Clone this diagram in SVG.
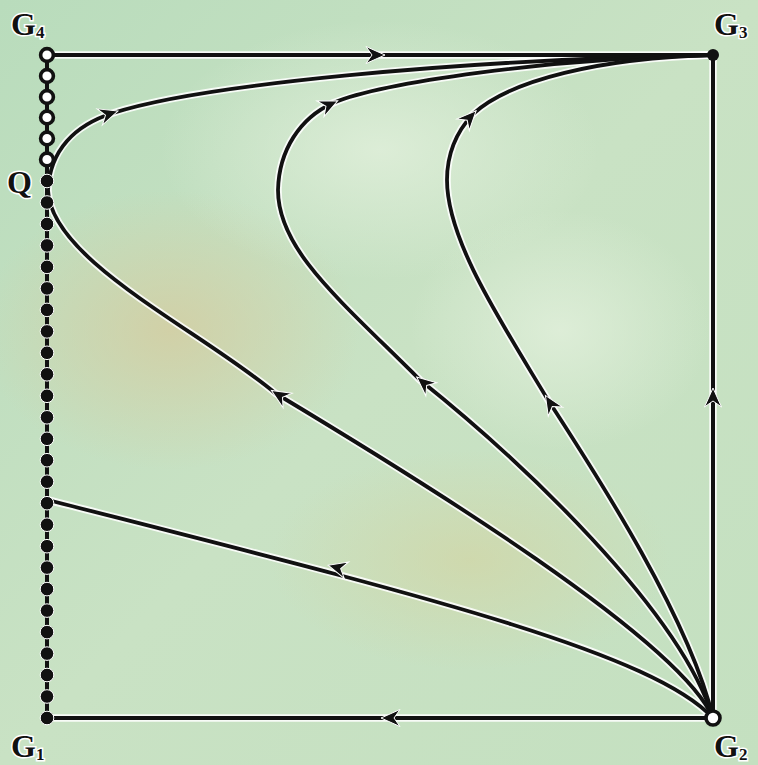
<svg xmlns="http://www.w3.org/2000/svg" width="758" height="765" viewBox="0 0 758 765">
<style>
.halo{fill:none;stroke:#ffffff;stroke-width:7.5;stroke-opacity:0.85;stroke-linecap:round}
.ln{fill:none;stroke:#111;stroke-width:3.8;stroke-linecap:round}
.edge{fill:none;stroke:#111;stroke-width:4}
.ah{fill:#111;stroke:#fff;stroke-width:1}
.lab{font-family:"Liberation Serif","Times New Roman",serif;font-size:32px;font-weight:bold;fill:#111;stroke:#fff;stroke-width:3;paint-order:stroke}
.sub{font-size:17px}
.open{fill:#fff;stroke:#111;stroke-width:3.6}
.fill{fill:#111;stroke:#fff;stroke-width:1}
</style>
<defs>
<linearGradient id="bg" x1="0" y1="0" x2="1" y2="1">
<stop offset="0" stop-color="#b9dcbc"/>
<stop offset="0.5" stop-color="#c9e2c4"/>
<stop offset="1" stop-color="#c4e0c0"/>
</linearGradient>
<radialGradient id="tan1" cx="0.5" cy="0.5" r="0.5">
<stop offset="0" stop-color="#d6cb9e" stop-opacity="0.75"/>
<stop offset="1" stop-color="#d6cb9e" stop-opacity="0"/>
</radialGradient>
<radialGradient id="tan2" cx="0.5" cy="0.5" r="0.5">
<stop offset="0" stop-color="#d3d4a2" stop-opacity="0.65"/>
<stop offset="1" stop-color="#d3d4a2" stop-opacity="0"/>
</radialGradient>
<radialGradient id="lite" cx="0.5" cy="0.5" r="0.5">
<stop offset="0" stop-color="#e2f0dc" stop-opacity="0.8"/>
<stop offset="1" stop-color="#e2f0dc" stop-opacity="0"/>
</radialGradient>
<path id="arrow" class="ah" d="M3,0 L-16,-8.5 L-10,0 L-16,8.5 Z"/>
<path id="p-top" d="M47,55 L713,55"/>
<path id="p-right" d="M713,718 L713,55"/>
<path id="p-bottom" d="M713,718 L47,718"/>
<path id="p-left" d="M47,55 L47,718"/>
<path id="p-low" d="M713,718 C650,650 400,590 48,500"/>
<path id="p-outer" d="M713,718 C680,640 420,480 275,393 C200,330 50,260 48,190 C50,150 75,125 113,113 C200,85 450,60 713,55"/>
<path id="p-mid" d="M713,718 C680,610 520,460 420,380 C340,300 278,250 278,190 C279,150 300,118 333,103 C380,83 550,58 713,55"/>
<path id="p-inner" d="M713,718 C690,620 600,480 548,400 C500,320 447,240 447,180 C447,150 460,128 473,114 C510,80 600,58 713,55"/>
</defs>
<rect x="0" y="0" width="758" height="765" fill="url(#bg)"/>
<ellipse cx="170" cy="330" rx="190" ry="140" fill="url(#tan1)"/>
<ellipse cx="470" cy="560" rx="200" ry="110" fill="url(#tan2)"/>
<ellipse cx="380" cy="150" rx="220" ry="130" fill="url(#lite)"/>
<ellipse cx="560" cy="330" rx="150" ry="120" fill="url(#lite)"/>

<g id="connectors">
<use href="#p-top" class="halo"/>
<use href="#p-right" class="halo"/>
<use href="#p-bottom" class="halo"/>
<use href="#p-low" class="halo"/>
<use href="#p-outer" class="halo"/>
<use href="#p-mid" class="halo"/>
<use href="#p-inner" class="halo"/>
<use href="#p-top" class="edge"/>
<use href="#p-right" class="edge"/>
<use href="#p-bottom" class="edge"/>
<use href="#p-left" class="edge"/>
<use href="#p-low" class="ln"/>
<use href="#p-outer" class="ln"/>
<use href="#p-mid" class="ln"/>
<use href="#p-inner" class="ln"/>
<use href="#arrow" transform="translate(382,55)"/>
<use href="#arrow" transform="translate(713,391) rotate(-90)"/>
<use href="#arrow" transform="translate(384,718) rotate(180)"/>
<use href="#arrow" transform="translate(331,566) rotate(195)"/>
<use href="#arrow" transform="translate(274,392) rotate(212)"/>
<use href="#arrow" transform="translate(115,112) rotate(-18)"/>
<use href="#arrow" transform="translate(419,379) rotate(220)"/>
<use href="#arrow" transform="translate(335,102) rotate(-25)"/>
<use href="#arrow" transform="translate(547,398) rotate(238)"/>
<use href="#arrow" transform="translate(474,113) rotate(-47)"/>
</g>

<g id="left-dots">
<circle class="fill" cx="47" cy="181" r="6.8"/>
<circle class="fill" cx="47" cy="202.5" r="6.8"/>
<circle class="fill" cx="47" cy="224" r="6.8"/>
<circle class="fill" cx="47" cy="245.4" r="6.8"/>
<circle class="fill" cx="47" cy="266.9" r="6.8"/>
<circle class="fill" cx="47" cy="288.4" r="6.8"/>
<circle class="fill" cx="47" cy="309.9" r="6.8"/>
<circle class="fill" cx="47" cy="331.4" r="6.8"/>
<circle class="fill" cx="47" cy="352.8" r="6.8"/>
<circle class="fill" cx="47" cy="374.3" r="6.8"/>
<circle class="fill" cx="47" cy="395.8" r="6.8"/>
<circle class="fill" cx="47" cy="417.3" r="6.8"/>
<circle class="fill" cx="47" cy="438.8" r="6.8"/>
<circle class="fill" cx="47" cy="460.2" r="6.8"/>
<circle class="fill" cx="47" cy="481.7" r="6.8"/>
<circle class="fill" cx="47" cy="503.2" r="6.8"/>
<circle class="fill" cx="47" cy="524.7" r="6.8"/>
<circle class="fill" cx="47" cy="546.2" r="6.8"/>
<circle class="fill" cx="47" cy="567.6" r="6.8"/>
<circle class="fill" cx="47" cy="589.1" r="6.8"/>
<circle class="fill" cx="47" cy="610.6" r="6.8"/>
<circle class="fill" cx="47" cy="632.1" r="6.8"/>
<circle class="fill" cx="47" cy="653.6" r="6.8"/>
<circle class="fill" cx="47" cy="675" r="6.8"/>
<circle class="fill" cx="47" cy="696.5" r="6.8"/>
<circle class="open" cx="47" cy="76" r="6.4"/>
<circle class="open" cx="47" cy="97" r="6.4"/>
<circle class="open" cx="47" cy="117.5" r="6.4"/>
<circle class="open" cx="47" cy="138.5" r="6.4"/>
<circle class="open" cx="47" cy="159.5" r="6.4"/>
</g>

<g id="G4">
<circle class="open" cx="47" cy="55" r="6.4"/>
<text class="lab" x="11" y="35">G<tspan class="sub" dy="3">4</tspan></text>
</g>
<g id="G3">
<circle cx="713" cy="55" r="6" fill="#111"/>
<text class="lab" x="714" y="35">G<tspan class="sub" dy="3">3</tspan></text>
</g>
<g id="G1">
<circle cx="47" cy="718" r="6.8" fill="#111" stroke="#fff" stroke-width="1"/>
<text class="lab" x="11" y="757">G<tspan class="sub" dy="3">1</tspan></text>
</g>
<g id="G2">
<circle class="open" cx="713" cy="718" r="7"/>
<text class="lab" x="714" y="757">G<tspan class="sub" dy="3">2</tspan></text>
</g>
<g id="Q">
<text class="lab" x="7" y="193">Q</text>
</g>
</svg>
